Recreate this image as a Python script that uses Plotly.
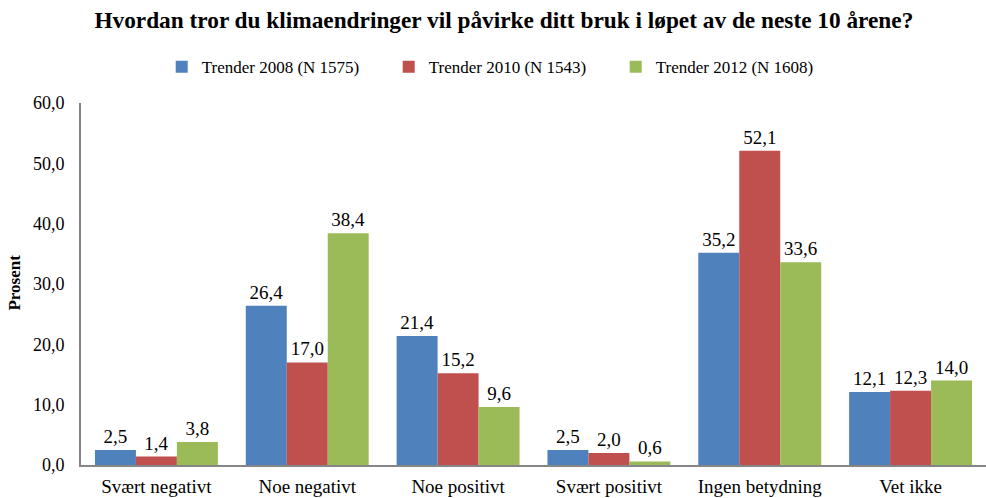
import plotly.graph_objects as go

categories = ["Svært negativt", "Noe negativt", "Noe positivt", "Svært positivt", "Ingen betydning", "Vet ikke"]
series_names = ["Trender 2008 (N 1575)", "Trender 2010 (N 1543)", "Trender 2012 (N 1608)"]
values_2008 = [2.5, 26.4, 21.4, 2.5, 35.2, 12.1]
values_2010 = [1.4, 17.0, 15.2, 2.0, 52.1, 12.3]
values_2012 = [3.8, 38.4, 9.6, 0.6, 33.6, 14.0]
colors = ["#4F81BD", "#C0504D", "#9BBB59"]
y_ticks = [0, 10, 20, 30, 40, 50, 60]

font_family = "Liberation Serif"

fig = go.Figure()
for name, vals, col in zip(series_names, [values_2008, values_2010, values_2012], colors):
    fig.add_trace(go.Bar(
        x=categories, y=vals, name=name,
        marker=dict(color=col, line=dict(width=0)),
        texttemplate="%{y:.1f}", textposition="outside",
        textfont=dict(family=font_family, size=19, color="black"),
        cliponaxis=False,
    ))

fig.update_layout(
    width=986, height=498,
    separators=",.",
    barmode="group", bargap=0.185, bargroupgap=0,
    plot_bgcolor="white", paper_bgcolor="white",
    margin=dict(l=81, r=0, t=103, b=33, autoexpand=False),
    font=dict(family=font_family, size=18, color="black"),
    title=dict(
        text="<b>Hvordan tror du klimaendringer vil påvirke ditt bruk i løpet av de neste 10 årene?</b>",
        x=0.511, xref="container", xanchor="center", y=0.96, yref="container", yanchor="middle",
        font=dict(family=font_family, size=23.3, color="black"),
    ),
    legend=dict(
        orientation="h", x=0.164, xref="container", xanchor="left",
        y=0.865, yref="container", yanchor="middle",
        font=dict(family=font_family, size=17, color="black"),
        itemwidth=30, traceorder="normal", entrywidth=182, entrywidthmode="pixels",
    ),
    showlegend=True,
    annotations=[dict(
        text="<b>Prosent</b>", textangle=-90, x=(15 - 81) / (986 - 81), xref="paper", xanchor="center",
        y=0.504, yref="paper", yanchor="middle", showarrow=False,
        font=dict(family=font_family, size=17, color="black"),
    )],
)
fig.update_xaxes(
    showline=True, linecolor="#868686", linewidth=2, ticks="", automargin=False,
    tickfont=dict(family=font_family, size=19), showgrid=False, ticklabelstandoff=3,
)
fig.update_yaxes(
    range=[0, 60], tickvals=y_ticks, tickformat=".1f", automargin=False,
    showline=True, linecolor="#868686", linewidth=2, ticks="", ticklabelstandoff=11,
    showgrid=False, zeroline=False,
    tickfont=dict(family=font_family, size=18),
)

fig.write_html(
    "out.html",
    config={"displayModeBar": False},
    post_script="document.body.style.margin='0px';document.body.style.padding='0px';",
)
